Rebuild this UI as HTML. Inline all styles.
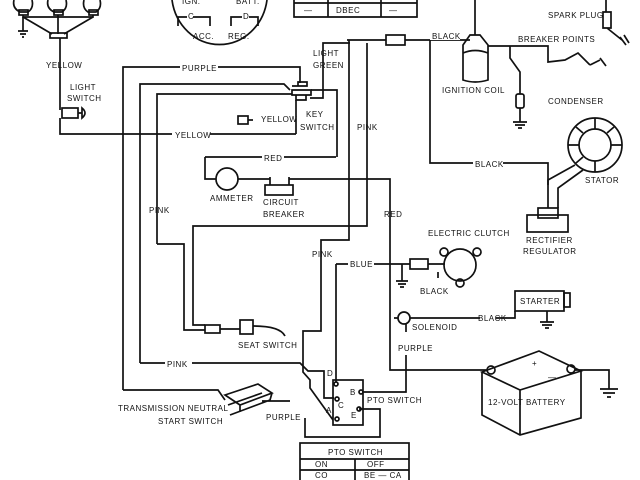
<!DOCTYPE html>
<html><head><style>
html,body{margin:0;padding:0;background:#fff;}
svg{display:block}
text{font-family:"Liberation Sans",sans-serif;font-size:8px;fill:#111;letter-spacing:0.5px}
</style></head><body>
<svg width="640" height="480" viewBox="0 0 640 480" xmlns="http://www.w3.org/2000/svg">
<g fill="none" stroke="#111" stroke-width="1.7">
<path d="M14 0 Q12 8 20 12 L28 12 Q34 8 32 0"/><rect x="19" y="10" width="9" height="5"/>
<path d="M48 0 Q46 8 54 12 L62 12 Q68 8 66 0"/><rect x="54" y="10" width="9" height="5"/>
<path d="M84 0 Q82 8 88 12 L96 12 Q102 8 100 0"/><rect x="89" y="10" width="9" height="5"/>
<path d="M23 15 L23 17 L93 17 L93 15 M23 17 L52 34 M93 17 L64 34 M58 15 L58 34"/>
<path d="M23 17 V31 M18 31 H28 M20 34 H26 M22 37 H24"/>
<rect x="50" y="33" width="17" height="5"/>
<path d="M60 38 V110 M60 118 V134 H296"/>
<rect x="62" y="108" width="16" height="10"/><path d="M78 113 H82 M82 108 Q88 113 82 118 Z"/>
<path d="M172 0 A48 52 0 0 0 267 0"/>
<path d="M178 26 V17 H187 M193 17 H210 V26 M231 26 V17 H242 M249 17 H258 V26"/>
<path d="M294 0 V17 H417 V0 M294 3 H417 M328 0 V17 M381 0 V17"/>
<path d="M123 390 V67 H300 V83"/>
<path d="M140 363 V84 H284 L290 90"/>
<path d="M157 244 V94 H292"/>
<path d="M292 86 H307 V82 H298 V86 M292 90 H311 V95 H292 Z M296 95 V100 H306 V95" />
<path d="M311 90 H337 V157 M323 88 V43 H350 M310 98 H323 V88"/>
<rect x="238" y="116" width="10" height="8"/><path d="M248 120 H253"/>
<path d="M296 134 V100"/>
<path d="M347 40 H386 M405 40 H470"/><rect x="386" y="35" width="19" height="10"/>
<path d="M349 40 V240 H321 V331 H303 V372 L310 380 V388 L333 420"/>
<path d="M367 43 V226 H193 V325 H205"/>
<path d="M157 244 H184 V330 H205"/>
<rect x="205" y="325" width="15" height="8"/><path d="M220 329 H240"/><rect x="240" y="320" width="13" height="14"/>
<path d="M253 326 Q280 326 285 336"/>
<path d="M430 40 V163 H548 V185"/>
<path d="M205 157 H336 M205 157 V179 H216 M238 179 H270 M289 179 H390 V370 H488"/>
<circle cx="227" cy="179" r="11"/>
<rect x="265" y="185" width="28" height="10"/><path d="M270 185 V177 M289 185 V177"/>
<path d="M336 264 V382 M336 264 H410 M428 264 H445"/>
<rect x="410" y="259" width="18" height="10"/>
<path d="M402 264 V281 M396 281 H408 M398 284 H406 M400 287 H404"/>
<circle cx="460" cy="265" r="16"/>
<circle cx="444" cy="252" r="4"/><circle cx="477" cy="252" r="4"/><circle cx="460" cy="283" r="4"/>
<path d="M438 272 V278"/>
<circle cx="404" cy="318" r="6"/><path d="M394 318 H398 M410 318 H480 M496 318 H515 V311"/>
<rect x="515" y="291" width="49" height="20"/><rect x="564" y="293" width="6" height="14"/>
<path d="M547 311 V322 M540 322 H554 M542 325 H552 M545 328 H549"/>
<path d="M406 324 V332 M406 355 V392 H363"/>
<path d="M140 363 H165 M192 363 H300 L308 371 H324 V398 H334"/>
<rect x="333" y="380" width="30" height="45"/>
<circle cx="336" cy="384" r="2"/><circle cx="337" cy="399" r="2"/><circle cx="337" cy="419" r="2"/>
<circle cx="361" cy="392" r="2"/><circle cx="359" cy="409" r="2"/>
<path d="M359 409 H380 V437 H305 V418"/>
<path d="M123 390 H218 L225 400"/>
<path d="M225 395 L258 384 L272 393 L240 405 Z M228 405 L262 393 M230 415 L270 400 L272 393 M240 405 V412 M262 401 H290"/>
<rect x="300" y="443" width="109" height="40"/><path d="M300 459 H409 M300 470 H409 M355 459 V480"/>
<path d="M482 372 L539 351 L581 371 L520 390 Z M482 372 V415 L520 435 L581 418 V371 M520 390 V435"/>
<circle cx="491" cy="370" r="4"/><circle cx="571" cy="369" r="4"/>
<path d="M575 370 H609 V389 M600 389 H618 M603 393 H615 M607 397 H611"/>
<path d="M475 0 V35 M463 45 L470 35 H480 L488 45 V80 Q475 84 463 80 Z M463 53 Q475 48 488 53 M488 46 H548 V62 L565 60 L578 53 L590 65 M590 65 L600 60 M600 58 L606 66"/>
<path d="M510 46 V58 L520 72 V94 M520 108 V122 M513 122 H527 M515 125 H525 M518 128 H522"/>
<rect x="516" y="94" width="8" height="14" rx="2"/>
<path d="M606 0 V12 M603 12 H611 V28 H603 Z M607 28 L622 40 M620 37 L626 45 M624 35 L629 43"/>
<circle cx="595" cy="145" r="27"/><circle cx="595" cy="145" r="16"/>
<path d="M595 118 V129 M595 161 V172 M568 145 H579 M611 145 H622 M576 127 L583 133 M614 127 L607 133 M576 163 L583 157"/>
<path d="M575 165 L548 180 V208 M583 170 L558 188 V208"/>
<rect x="538" y="208" width="20" height="10"/><rect x="527" y="215" width="41" height="17"/>
</g>
<g>
<text x="46" y="68">YELLOW</text>
<text x="70" y="90">LIGHT</text><text x="67" y="101">SWITCH</text>
<text x="182" y="4">IGN.</text><text x="236" y="4">BATT.</text>
<text x="188" y="19">C</text><text x="243" y="19">D</text>
<text x="193" y="39">ACC.</text><text x="228" y="39">REG.</text>
<text x="336" y="13">DBEC</text><text x="304" y="13">—</text><text x="389" y="13">—</text>
<rect x="180" y="62" width="38" height="10" fill="#fff"/><text x="182" y="71">PURPLE</text>
<text x="313" y="56">LIGHT</text><text x="313" y="68">GREEN</text>
<text x="261" y="122">YELLOW</text>
<text x="306" y="117">KEY</text><text x="300" y="130">SWITCH</text>
<rect x="172" y="129" width="38" height="10" fill="#fff"/><text x="175" y="138">YELLOW</text>
<text x="357" y="130">PINK</text>
<rect x="262" y="152" width="22" height="10" fill="#fff"/><text x="264" y="161">RED</text>
<text x="210" y="201">AMMETER</text>
<text x="263" y="205">CIRCUIT</text><text x="263" y="217">BREAKER</text>
<text x="149" y="213">PINK</text>
<text x="384" y="217">RED</text>
<text x="312" y="257">PINK</text>
<rect x="348" y="259" width="26" height="10" fill="#fff"/><text x="350" y="267">BLUE</text>
<text x="428" y="236">ELECTRIC CLUTCH</text>
<text x="420" y="294">BLACK</text>
<text x="167" y="367">PINK</text>
<text x="238" y="348">SEAT SWITCH</text>
<text x="478" y="321">BLACK</text>
<text x="520" y="304">STARTER</text>
<text x="412" y="330">SOLENOID</text>
<text x="398" y="351">PURPLE</text>
<text x="327" y="376">D</text><text x="350" y="395">B</text><text x="338" y="408">C</text><text x="326" y="413">A</text><text x="351" y="418">E</text>
<text x="367" y="403">PTO SWITCH</text>
<text x="118" y="411">TRANSMISSION NEUTRAL</text><text x="158" y="424">START SWITCH</text>
<text x="266" y="420">PURPLE</text>
<text x="328" y="455">PTO SWITCH</text>
<text x="315" y="467">ON</text><text x="367" y="467">OFF</text>
<text x="315" y="478">CO</text><text x="364" y="478">BE — CA</text>
<text x="488" y="405">12-VOLT BATTERY</text>
<text x="532" y="366">+</text><text x="548" y="380">—</text>
<rect x="430" y="30" width="30" height="10" fill="#fff"/><text x="432" y="39">BLACK</text>
<text x="442" y="93">IGNITION COIL</text>
<text x="518" y="42">BREAKER POINTS</text>
<text x="548" y="104">CONDENSER</text>
<text x="548" y="18">SPARK PLUG</text>
<rect x="473" y="158" width="30" height="10" fill="#fff"/><text x="475" y="167">BLACK</text>
<text x="585" y="183">STATOR</text>
<text x="526" y="243">RECTIFIER</text><text x="523" y="254">REGULATOR</text>
</g>
</svg>
</body></html>
